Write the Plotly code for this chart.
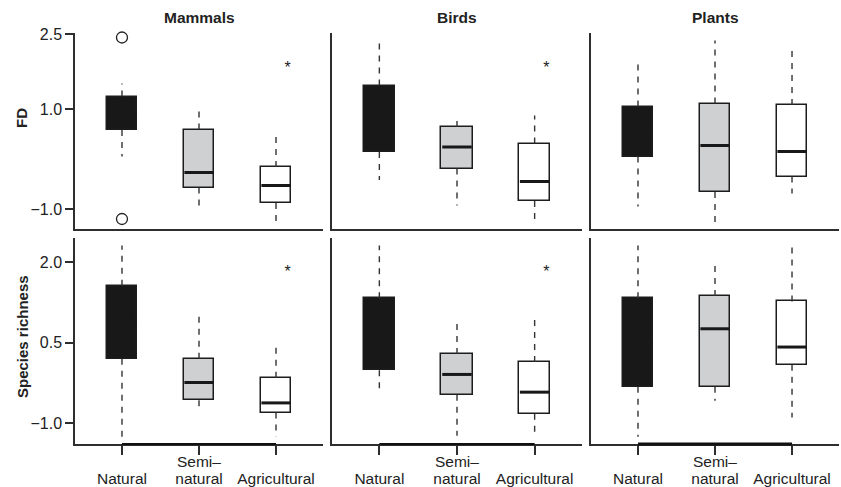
import plotly.graph_objects as go

# ---------------- data ----------------
categories = ["Natural", "Semi-natural", "Agricultural"]
tick_labels = ["Natural", "natural", "Agricultural"]
tick_label_upper = ["", "Semi\u2013", ""]
taxa = ["Mammals", "Birds", "Plants"]
metrics = ["FD", "Species richness"]

# FD: [natural, semi, agri]
fd_lower = {"Mammals": [0.05, -0.97, -1.27], "Birds": [-0.42, -0.93, -1.27], "Plants": [-0.95, -1.27, -0.69]}
fd_q1 = {"Mammals": [0.58, -0.57, -0.88], "Birds": [0.14, -0.19, -0.84], "Plants": [0.05, -0.66, -0.35]}
fd_median = {"Mammals": [0.90, -0.27, -0.53], "Birds": [0.80, 0.24, -0.45], "Plants": [0.55, 0.27, 0.15]}
fd_q3 = {"Mammals": [1.25, 0.59, -0.16], "Birds": [1.47, 0.64, 0.31], "Plants": [1.05, 1.11, 1.08]}
fd_upper = {"Mammals": [1.51, 0.95, 0.53], "Birds": [2.37, 0.83, 0.87], "Plants": [1.97, 2.37, 2.19]}
fd_outliers = {"Mammals": [2.43, -1.20], "Birds": [], "Plants": []}

# Species richness
sr_lower = {"Mammals": [-1.25, -0.68, -1.25], "Birds": [-0.39, -1.23, -1.23], "Plants": [-1.25, -0.58, -0.89]}
sr_q1 = {"Mammals": [0.20, -0.57, -0.80], "Birds": [-0.01, -0.47, -0.82], "Plants": [-0.32, -0.32, 0.09]}
sr_median = {"Mammals": [0.90, -0.24, -0.62], "Birds": [0.65, -0.09, -0.42], "Plants": [0.50, 0.76, 0.42]}
sr_q3 = {"Mammals": [1.56, 0.20, -0.15], "Birds": [1.33, 0.29, 0.14], "Plants": [1.33, 1.37, 1.27]}
sr_upper = {"Mammals": [2.31, 1.09, 0.46], "Birds": [2.31, 0.94, 0.94], "Plants": [2.31, 1.95, 2.28]}
sr_outliers = {"Mammals": [], "Birds": [], "Plants": []}

# significance asterisks (category index, value)
fd_stars = {"Mammals": [(2, 1.80)], "Birds": [(2, 1.80)], "Plants": []}
sr_stars = {"Mammals": [(2, 1.79)], "Birds": [(2, 1.79)], "Plants": []}

fd_ticks = [-1.0, 1.0, 2.5]
sr_ticks = [-1.0, 0.5, 2.0]
fd_range = [-1.40, 2.52]
sr_range = [-1.385, 2.45]

# ---------------- style ----------------
box_colors = ["#181818", "#cfd0d2", "#ffffff"]
box_line = "#1c1c1c"
median_col = "#181818"
axis_col = "#2e2e2e"
font_family = "Liberation Sans, Arial, Helvetica, sans-serif"
box_w = 0.40
star_offset = 0.15

W, H = 841, 487
ml, mr, mt, mb = 75, 2, 33, 43
pw, ph = W - ml - mr, H - mt - mb

def fx(px):
    return (px - ml) / pw

def fy(py):
    return (H - mb - py) / ph

x_domains = [[fx(75), fx(323)], [fx(332), fx(582)], [fx(591), fx(839)]]
y_domains = [[fy(229), fy(33)], [fy(444), fy(238)]]

fig = go.Figure()
layout = dict(
    width=W, height=H,
    margin=dict(l=ml, r=mr, t=mt, b=mb, pad=0, autoexpand=False),
    paper_bgcolor="white", plot_bgcolor="white",
    showlegend=False,
    font=dict(family=font_family, size=15.5, color="#222"),
)

annotations = []
shapes = []

datasets = [
    (fd_lower, fd_q1, fd_median, fd_q3, fd_upper, fd_outliers, fd_stars, fd_ticks, fd_range),
    (sr_lower, sr_q1, sr_median, sr_q3, sr_upper, sr_outliers, sr_stars, sr_ticks, sr_range),
]

idx = list(range(len(categories)))

for r, (lo, q1, med, q3, hi, outl, stars, yt, yr) in enumerate(datasets):
    for c, taxon in enumerate(taxa):
        p = r * 3 + c
        sfx = "" if p == 0 else str(p + 1)
        xa, ya = "x" + sfx, "y" + sfx

        # whiskers (dashed)
        wx, wy = [], []
        for i in idx:
            wx += [i, i, None, i, i, None]
            wy += [q3[taxon][i], hi[taxon][i], None, q1[taxon][i], lo[taxon][i], None]
        fig.add_trace(go.Scatter(x=wx, y=wy, mode="lines", xaxis=xa, yaxis=ya,
                                 line=dict(color="#333", width=1.4, dash="6px,6px"),
                                 hoverinfo="skip"))
        # boxes
        fig.add_trace(go.Bar(x=idx, y=[q3[taxon][i] - q1[taxon][i] for i in idx],
                             base=q1[taxon], width=box_w, xaxis=xa, yaxis=ya,
                             marker=dict(color=box_colors, line=dict(color=box_line, width=1.5))))
        # medians
        mx, my = [], []
        for i in idx:
            mx += [i - box_w / 2 + 0.01, i + box_w / 2 - 0.01, None]
            my += [med[taxon][i], med[taxon][i], None]
        fig.add_trace(go.Scatter(x=mx, y=my, mode="lines", xaxis=xa, yaxis=ya,
                                 line=dict(color=median_col, width=3), hoverinfo="skip"))
        # outliers
        if outl[taxon]:
            fig.add_trace(go.Scatter(x=[0] * len(outl[taxon]), y=outl[taxon], mode="markers",
                                     xaxis=xa, yaxis=ya, cliponaxis=False,
                                     marker=dict(symbol="circle-open", size=11,
                                                 color="#222", line=dict(width=1.3))))
        # asterisks
        if stars[taxon]:
            fig.add_trace(go.Scatter(x=[s[0] + star_offset for s in stars[taxon]],
                                     y=[s[1] for s in stars[taxon]], mode="text",
                                     text=["*"] * len(stars[taxon]), xaxis=xa, yaxis=ya,
                                     textfont=dict(size=16, color="#222"),
                                     textposition="middle center"))

        xkey = "xaxis" + sfx
        ykey = "yaxis" + sfx
        xaxis = dict(domain=x_domains[c], anchor=ya, range=[-0.61, 2.61],
                     showline=True, linecolor=axis_col, linewidth=1.5, automargin=False,
                     showgrid=False, zeroline=False, fixedrange=True)
        if r == 1:
            xaxis.update(tickmode="array", tickvals=idx, ticktext=tick_labels,
                         ticks="outside", ticklen=9, tickwidth=1.5, tickcolor=axis_col,
                         ticklabelstandoff=11,
                         tickfont=dict(size=15.5, color="#222"))
            # first line of two-line category labels
            for i in idx:
                if tick_label_upper[i]:
                    annotations.append(dict(text=tick_label_upper[i], x=i, xref=xa,
                                            y=fy(461), yref="paper", showarrow=False,
                                            xanchor="center", yanchor="middle",
                                            font=dict(size=15.5, color="#222")))
            # R-style axis segment from first to last tick
            shapes.append(dict(type="line", xref=xa, yref=ya + " domain",
                               x0=idx[0], x1=idx[-1], y0=0, y1=0,
                               line=dict(color="#111", width=3 if c == 2 else 2)))
        else:
            xaxis.update(showticklabels=False, ticks="")
        yaxis = dict(domain=y_domains[r], anchor=xa, range=yr,
                     showline=True, linecolor=axis_col, linewidth=1.5, automargin=False,
                     showgrid=False, zeroline=False, fixedrange=True)
        if c == 0:
            yaxis.update(tickmode="array", tickvals=yt,
                         ticktext=[("\u2212" + f"{abs(v):.1f}") if v < 0 else f"{v:.1f}" for v in yt],
                         ticks="outside", ticklen=8, tickwidth=1.5, tickcolor=axis_col,
                         tickfont=dict(size=16, color="#222"))
        else:
            yaxis.update(showticklabels=False, ticks="")
        layout[xkey] = xaxis
        layout[ykey] = yaxis

# panel titles
for c, taxon in enumerate(taxa):
    annotations.append(dict(text="<b>" + taxon + "</b>", x=sum(x_domains[c]) / 2, y=fy(18),
                            xref="paper", yref="paper", showarrow=False,
                            xanchor="center", yanchor="middle",
                            font=dict(size=15.5, color="#222")))
# row titles
row_title_y = [fy(118), fy(337)]
for r, m in enumerate(metrics):
    annotations.append(dict(text="<b>" + m + "</b>", x=fx(22), y=row_title_y[r],
                            xref="paper", yref="paper", showarrow=False, textangle=-90,
                            xanchor="center", yanchor="middle",
                            font=dict(size=15, color="#222")))

layout["annotations"] = annotations
layout["shapes"] = shapes
layout["bargap"] = 0
fig.update_layout(**layout)

fig.write_html("out.html", config={"displayModeBar": False},
               post_script="document.body.style.margin='0';")
